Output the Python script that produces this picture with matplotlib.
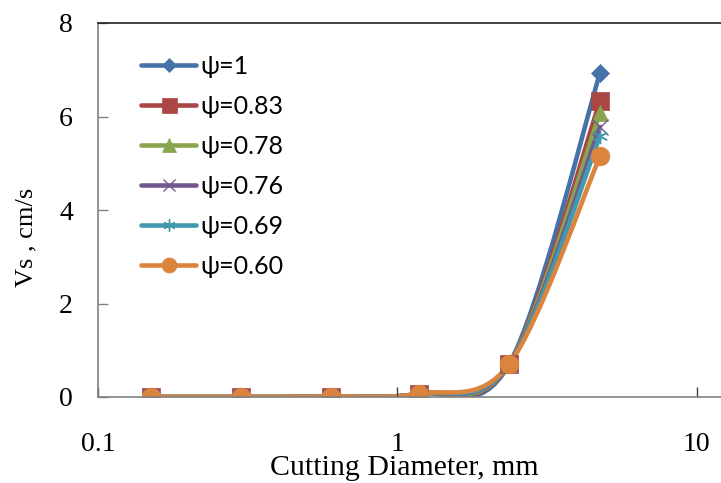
import numpy as np
import matplotlib.pyplot as plt
from matplotlib.path import Path
from matplotlib.patches import PathPatch
from matplotlib.lines import Line2D

# sieve sizes, mm
diam = [0.15, 0.3, 0.6, 1.18, 2.36, 4.75]

vs_100 = [0.0, 0.0, 0.01, 0.07, 0.70, 6.93]
vs_083 = [0.0, 0.0, 0.01, 0.07, 0.70, 6.33]
vs_078 = [0.0, 0.0, 0.01, 0.07, 0.70, 6.08]
vs_076 = [0.0, 0.0, 0.01, 0.07, 0.70, 5.78]
vs_069 = [0.0, 0.0, 0.01, 0.07, 0.70, 5.58]
vs_060 = [0.0, 0.0, 0.01, 0.07, 0.70, 5.15]

series = [vs_100, vs_083, vs_078, vs_076, vs_069, vs_060]
labels = ["ψ=1", "ψ=0.83", "ψ=0.78", "ψ=0.76", "ψ=0.69", "ψ=0.60"]
colors = ["#4572A7", "#AA4643", "#89A54E", "#71588F", "#4198AF", "#DB843D"]
markers = ["D", "s", "^", "x", (6, 2, 0), "o"]
msizes = [9.5, 13.5, 12, 11, 11, 13.5]

plt.rcParams["font.family"] = ["Liberation Serif", "DejaVu Serif"]


def smooth_path(xs, ys):
    # excel-like smoothed line: cubic bezier through the points, built in log-x space
    u = np.log10(xs)
    v = np.asarray(ys, float)
    n = len(u)
    verts = [(u[0], v[0])]
    codes = [Path.MOVETO]
    for i in range(n - 1):
        a = max(i - 1, 0)
        d = min(i + 2, n - 1)
        c1 = (u[i] + (u[i + 1] - u[a]) / 6, v[i] + (v[i + 1] - v[a]) / 6)
        c2 = (u[i + 1] - (u[d] - u[i]) / 6, v[i + 1] - (v[d] - v[i]) / 6)
        verts += [c1, c2, (u[i + 1], v[i + 1])]
        codes += [Path.CURVE4] * 3
    verts = [(10 ** p, q) for p, q in verts]
    return Path(verts, codes)


fig = plt.figure(figsize=(7.21, 4.83), dpi=100)
ax = fig.add_axes([98 / 721, 86 / 483, 689 / 721, 374 / 483])
ax.set_xscale("log")

handles = []
for ys, lab, c, m, ms in zip(series, labels, colors, markers, msizes):
    ax.add_patch(PathPatch(smooth_path(diam, ys), fill=False, edgecolor=c,
                           lw=3.3, capstyle="round", joinstyle="round"))
    mew = 1.0 if m in ("x", (6, 2, 0)) else 0.5
    ax.plot(diam, ys, ls="none", marker=m, ms=ms, color=c, mec=c, mew=mew)
    handles.append(Line2D([], [], color=c, lw=3.3, marker=m, ms=ms * 0.8,
                          mec=c, mew=mew, solid_capstyle="round"))

ax.set_xlim(0.1, 20)
ax.set_ylim(0, 8)
ax.set_yticks([0, 2, 4, 6, 8])
ax.set_xticks([0.1, 1, 10])
ax.set_xticklabels(["0.1", "1", "10"])
ax.minorticks_off()
ax.tick_params(axis="y", direction="in", length=7, width=1, color="#808080",
               labelsize=20, pad=18)
ax.tick_params(axis="x", direction="in", length=7, width=1, color="#404040",
               labelsize=20, pad=25)

ax.spines["right"].set_visible(False)
ax.spines["left"].set_color("#808080")
ax.spines["bottom"].set_color("#808080")
ax.spines["top"].set_color("#202020")
for s in ("left", "bottom", "top"):
    ax.spines[s].set_linewidth(1.2)

fig.text(26 / 721, 1 - 237 / 483, "Vs , cm/s", fontsize=19, rotation=90,
         ha="center", va="center")
fig.text(404 / 721, 2 / 483, "Cutting Diameter, mm", fontsize=21.5,
         ha="center", va="bottom")

ax.legend(handles, labels, loc="upper left", bbox_to_anchor=(0.03, 0.975),
          frameon=False, numpoints=1, handlelength=2.2, handletextpad=0.15,
          labelspacing=0.68, prop={"family": ["Lato", "DejaVu Sans"], "size": 18})

fig.savefig("out.png", dpi=100)
